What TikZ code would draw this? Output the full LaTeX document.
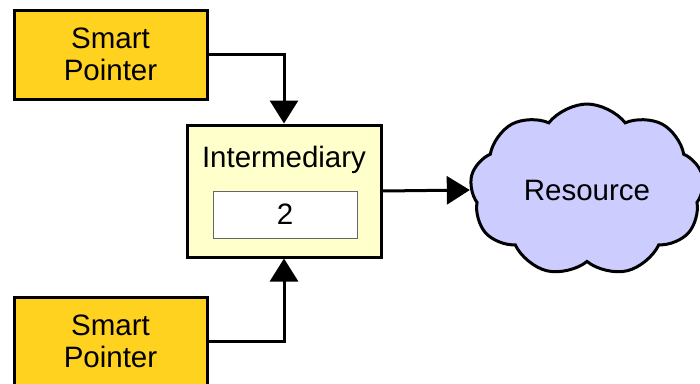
\documentclass[tikz,border=0pt]{standalone}
\usepackage{fontspec}
\setmainfont{Liberation Sans}
\usetikzlibrary{arrows.meta,shapes.symbols}
\definecolor{spfill}{HTML}{FFD21F}
\definecolor{intfill}{HTML}{FFFFCC}
\definecolor{cloudfill}{HTML}{CCCCFF}
\begin{document}
\begin{tikzpicture}[x=1pt,y=-1pt,
  every node/.style={font=\fontsize{29.5}{32}\selectfont, inner sep=0pt},
  spbox/.style={draw=black, line width=3pt, fill=spfill, minimum width=193pt, minimum height=89pt, align=center},
  intbox/.style={draw=black, line width=3pt, fill=intfill, minimum width=194pt, minimum height=132pt},
  valbox/.style={draw=black!60, line width=1pt, fill=white, minimum width=144pt, minimum height=47pt},
  conn/.style={line width=3pt, -{Triangle[length=23pt,width=28pt]}}]
\useasboundingbox (0,0) rectangle (700,383);
\clip (0,0) rectangle (700,383);
\node[spbox] (sp1) at (110.5,54.5) {Smart\\Pointer};
\node[spbox] (sp2) at (110.5,341.5) {Smart\\Pointer};
\node[intbox] (int) at (284,191) {};
\node (intlabel) at (284,160) {Intermediary};
\node[valbox] (val) at (285,214.5) {2};
\node[cloud, cloud puffs=9, cloud puff arc=105, aspect=1.4, draw=black, line width=3pt, fill=cloudfill,
  minimum width=234pt, minimum height=172pt] (res) at (587,190) {Resource};
\draw[conn] (sp1.east) -| (int.north);
\draw[conn] (sp2.east) -| (int.south);
\draw[conn] (int.east) -- (res.west);
\end{tikzpicture}
\end{document}
